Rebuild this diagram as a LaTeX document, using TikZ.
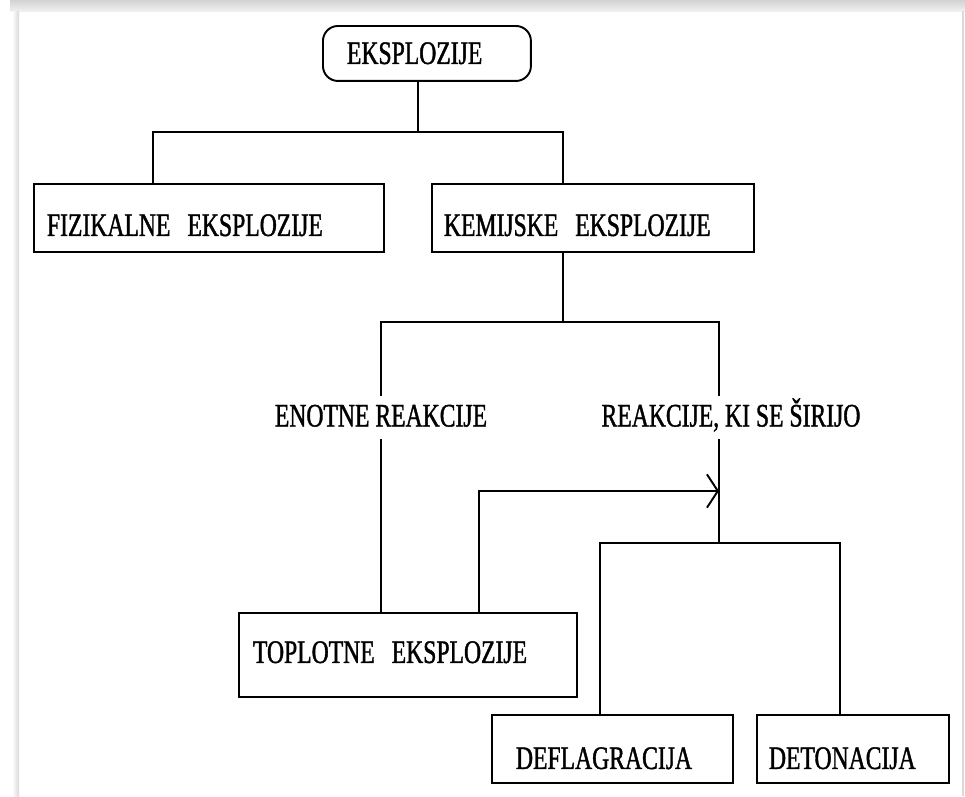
\documentclass[tikz,border=0pt]{standalone}
\usepackage{fontspec}
\setmainfont{Liberation Serif}[FakeStretch=0.72,FakeBold=1.2]
\usetikzlibrary{arrows.meta}
\newcommand{\diafont}{\fontsize{18.7pt}{22pt}\selectfont}
\newcommand{\wgap}{\hspace{0.34cm}}

\begin{document}
\begin{tikzpicture}[x=0.02cm,y=-0.02cm]
	
	% ------------------------------------------------------------
	% Styles
	% ------------------------------------------------------------
	\tikzset{
		box/.style={draw=black,line width=1.1pt,anchor=north west,
			align=left,inner ysep=0pt,font=\diafont},
		topbox/.style={box,rounded corners=0.3cm},
		lbl/.style={font=\diafont,inner xsep=0pt,inner ysep=0.16cm,
			text height=0.44cm,text depth=0.08cm},
		conn/.style={line width=1.1pt},
		flow/.style={conn,-{Straight Barb[length=6.2pt,width=19pt]}}
	}
	
	% page with its grey shadow
	\useasboundingbox (0,0) rectangle (965,796);
	\fill[white] (0,0) rectangle (965,796);
	\shade[top color=gray!35,bottom color=gray!12] (10,0) rectangle (965,11);
	\shade[left color=white,right color=gray!30] (12,11) rectangle (19,796);
	\draw[gray!30,line width=0.6pt] (963,11) -- (963,796);
	
	% ============================================================
	% Boxes and labels
	% ============================================================
	\node[topbox,inner xsep=0.48cm,text width=3.2cm,
	text height=0.76cm,text depth=0.34cm] (eksp) at (322,25) {EKSPLOZIJE};
	
	\node[box,inner xsep=0.26cm,text width=6.48cm,
	text height=1.04cm,text depth=0.32cm] (fiz) at (33,183) {FIZIKALNE\wgap EKSPLOZIJE};
	\node[box,inner xsep=0.24cm,text width=5.96cm,
	text height=1.04cm,text depth=0.32cm] (kem) at (431,183) {KEMIJSKE\wgap EKSPLOZIJE};
	
	\node[lbl] (enot) at (381,417.5) {ENOTNE REAKCIJE};
	\node[lbl] (sir) at (731,417.5) {REAKCIJE, KI SE ŠIRIJO};
	
	\node[box,inner xsep=0.28cm,text width=6.2cm,
	text height=1.0cm,text depth=0.68cm] (topl) at (238,612) {TOPLOTNE\wgap EKSPLOZIJE};
	
	\node[box,inner xsep=0.48cm,text width=3.86cm,
	text height=1.08cm,text depth=0.28cm] (defl) at (491,714) {DEFLAGRACIJA};
	\node[box,inner xsep=0.24cm,text width=3.36cm,
	text height=1.08cm,text depth=0.28cm] (deto) at (756,714) {DETONACIJA};
	
	% ============================================================
	% Junctions of the tree
	% ============================================================
	\coordinate (jeksp) at (418,132);
	\coordinate (jfiz)  at (153,132);
	\coordinate (jkem)  at (563,132);
	\coordinate (jreak) at (563,322);
	\coordinate (jenot) at (381,322);
	\coordinate (jsir)  at (719,322);
	\coordinate (jvrst) at (719,543);
	\coordinate (jdefl) at (600,543);
	\coordinate (jdeto) at (840,543);
	\coordinate (jtopl) at (479,491);
	
	% ============================================================
	% Connectors
	% ============================================================
	\draw[conn] (jeksp |- eksp.south) -- (jeksp);
	\draw[conn] (jfiz |- fiz.north) -- (jfiz) -- (jkem) -- (jkem |- kem.north);
	
	\draw[conn] (jreak |- kem.south) -- (jreak);
	\draw[conn] (jenot |- enot.north) -- (jenot) -- (jsir) -- (jsir |- sir.north);
	
	\draw[conn] (enot.south) -- (enot.south |- topl.north);
	\draw[conn] (jsir |- sir.south) -- (jvrst);
	\draw[conn] (jdefl |- defl.north) -- (jdefl) -- (jdeto) -- (jdeto |- deto.north);
	
	% thermal explosion turns into a propagating reaction
	\draw[flow] (jtopl |- topl.north) -- (jtopl) -- (jtopl -| jsir);
	
\end{tikzpicture}
\end{document}
